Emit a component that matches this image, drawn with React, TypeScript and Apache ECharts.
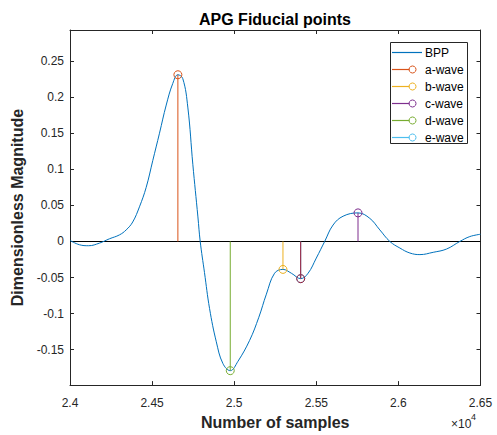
import React, { useEffect, useRef } from "react";
import * as echarts from "echarts";

const bppX = [24000, 24057, 24114, 24179, 24240, 24301, 24342, 24382, 24423, 24464, 24504, 24545, 24586, 24626, 24657, 24687, 24718, 24748, 24779, 24793, 24819, 24850, 24891, 24931, 24976, 25023, 25094, 25150, 25196, 25246, 25297, 25348, 25405, 25450, 25500, 25551, 25602, 25663, 25754, 25826, 25887, 25948, 26009, 26070, 26131, 26212, 26293, 26374, 26435, 26500];
const bppY = [0.0014, -0.0045, -0.0059, -0.0023, 0.0037, 0.0091, 0.016, 0.027, 0.048, 0.075, 0.112, 0.15, 0.189, 0.219, 0.231, 0.2256, 0.185, 0.107, 0.034, 0, -0.043, -0.093, -0.139, -0.169, -0.179, -0.166, -0.137, -0.105, -0.073, -0.044, -0.0387, -0.044, -0.0515, -0.044, -0.023, 0, 0.0228, 0.035, 0.0396, 0.032, 0.016, 0, -0.0091, -0.016, -0.0182, -0.015, -0.0105, 0, 0.0068, 0.01];

const waveNames = ["a-wave", "b-wave", "c-wave", "d-wave", "e-wave"];
const waveX = [24657, 25297, 25754, 24976, 25405];
const waveY = [0.231, -0.0387, 0.0396, -0.179, -0.0515];
const waveColors = ["#D95319", "#EDB120", "#7E2F8E", "#77AC30", "#4DBEEE"];

const extraX = [25405];
const extraY = [-0.0515];
const extraColor = "#A2142F";

const yTicks = [-0.15, -0.1, -0.05, 0, 0.05, 0.1, 0.15, 0.2, 0.25];
const xMin = 24000;
const xMax = 26500;
const xStep = 500;
const yMin = -0.199;
const yMax = 0.293;

const bppColor = "#0072BD";
const FONT = "'Liberation Sans', Arial, Helvetica, sans-serif";
const AX = "#262626";

function stemSeries(name: string, x: number, y: number, color: string) {
  return {
    name,
    type: "line",
    data: [{ value: [x, 0], symbol: "none" }, { value: [x, y] }],
    symbol: "circle",
    symbolSize: 8,
    showSymbol: true,
    itemStyle: { color: "transparent", borderColor: color, borderWidth: 1 },
    lineStyle: { color, width: 1 },
    z: 3,
  };
}

function legendGraphic() {
  const L = 390.5;
  const T = 42.5;
  const W = 77;
  const H = 101;
  const rowH = 17;
  const names = ["BPP", ...waveNames];
  const colors = [bppColor, ...waveColors];
  const children: any[] = [
    {
      type: "rect",
      shape: { x: L, y: T, width: W, height: H },
      style: { fill: "#fff", stroke: AX, lineWidth: 1 },
    },
  ];
  names.forEach((n, i) => {
    const cy = T + 10 + rowH * i;
    const isLine = i === 0;
    children.push({
      type: "line",
      shape: { x1: L + 1.5, y1: cy, x2: isLine ? L + 31.5 : L + 19, y2: cy },
      style: { stroke: colors[i], lineWidth: 1.2 },
    });
    if (!isLine) {
      children.push({
        type: "circle",
        shape: { cx: L + 22, cy, r: 3.5 },
        style: { fill: "none", stroke: colors[i], lineWidth: 1 },
      });
    }
    children.push({
      type: "text",
      x: L + 34.5,
      y: cy,
      style: {
        text: n,
        fontFamily: FONT,
        fontSize: 12,
        fill: "#000",
        verticalAlign: "middle",
        align: "left",
      },
    });
  });
  return { type: "group", z: 100, children };
}

export default function App() {
  const ref = useRef<HTMLDivElement>(null);
  useEffect(() => {
    if (!ref.current) return;
    const chart = echarts.init(ref.current, undefined, { renderer: "svg" });
    const axisCommon = {
      min: yMin,
      max: yMax,
      splitLine: { show: false },
      axisLine: { show: true, onZero: false, lineStyle: { color: AX, width: 1 } },
    };
    const series: any[] = [
      {
        name: "BPP",
        type: "line",
        data: bppX.map((x, i) => [x, bppY[i]]),
        showSymbol: false,
        symbol: "none",
        smooth: 0.4,
        lineStyle: { color: bppColor, width: 1 },
        itemStyle: { color: bppColor },
        z: 2,
        markLine: {
          silent: true,
          symbol: ["none", "none"],
          label: { show: false },
          lineStyle: { color: "#000", type: "solid", width: 1 },
          data: [{ yAxis: 0 }],
          z: 1,
        },
      },
      ...waveNames.map((n, i) => stemSeries(n, waveX[i], waveY[i], waveColors[i])),
      ...extraX.map((x, i) => stemSeries("extra", x, extraY[i], extraColor)),
    ];
    chart.setOption({
      animation: false,
      backgroundColor: "#fff",
      textStyle: { fontFamily: FONT },
      title: {
        text: "APG Fiducial points",
        left: 275,
        top: 11,
        padding: 0,
        textAlign: "center",
        textStyle: { fontFamily: FONT, fontSize: 16, fontWeight: "bold", color: "#000" },
      },
      grid: { left: 70, right: 16.5, top: 30, bottom: 45, containLabel: false },
      xAxis: [
        {
          type: "value",
          position: "bottom",
          min: xMin,
          max: xMax,
          interval: xStep,
          name: "Number of samples",
          nameLocation: "middle",
          nameGap: 27,
          nameTextStyle: { fontFamily: FONT, fontSize: 16, fontWeight: "bold", color: AX },
          splitLine: { show: false },
          axisLine: { show: true, onZero: false, lineStyle: { color: AX, width: 1 } },
          axisTick: { show: true, inside: true, length: 4, lineStyle: { color: AX } },
          axisLabel: {
            margin: 12,
            fontFamily: FONT,
            fontSize: 12,
            color: AX,
            formatter: (v: number) => String(v / 10000),
          },
        },
        {
          type: "value",
          position: "top",
          min: xMin,
          max: xMax,
          interval: xStep,
          splitLine: { show: false },
          axisLine: { show: true, onZero: false, lineStyle: { color: AX, width: 1 } },
          axisTick: { show: true, inside: true, length: 4, lineStyle: { color: AX } },
          axisLabel: { show: false },
        },
      ],
      yAxis: [
        {
          type: "value",
          position: "left",
          ...axisCommon,
          name: "Dimensionless Magnitude",
          nameLocation: "middle",
          nameGap: 41,
          nameRotate: 90,
          nameTextStyle: { fontFamily: FONT, fontSize: 16, fontWeight: "bold", color: AX },
          axisTick: { show: true, inside: true, length: 4, lineStyle: { color: AX }, customValues: yTicks },
          axisLabel: {
            margin: 6,
            fontFamily: FONT,
            fontSize: 12,
            color: AX,
            customValues: yTicks,
            formatter: (v: number) => String(Math.round(v * 100) / 100),
          },
        },
        {
          type: "value",
          position: "right",
          ...axisCommon,
          axisTick: { show: true, inside: true, length: 4, lineStyle: { color: AX }, customValues: yTicks },
          axisLabel: { show: false, customValues: yTicks },
        },
      ],
      graphic: [
        {
          type: "text",
          left: 451,
          top: 418,
          style: { text: "×10", fontFamily: FONT, fontSize: 12, fill: AX },
        },
        {
          type: "text",
          left: 471,
          top: 412,
          style: { text: "4", fontFamily: FONT, fontSize: 9, fill: AX },
        },
        legendGraphic(),
      ],
      series,
    });
    return () => chart.dispose();
  }, []);
  return (
    <div
      ref={ref}
      style={{ position: "fixed", left: 0, top: 0, width: 497, height: 435, background: "#fff" }}
    />
  );
}
